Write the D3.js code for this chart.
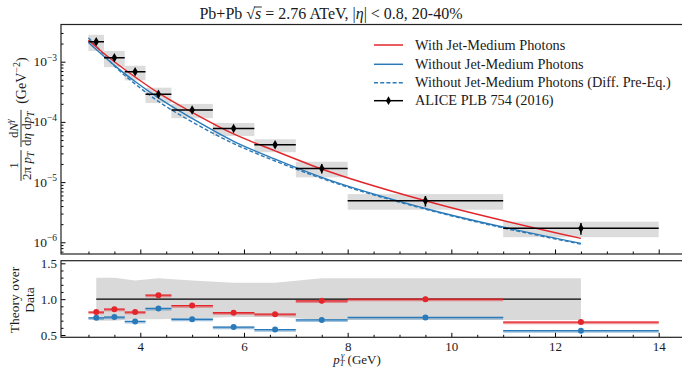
<!DOCTYPE html>
<html><head><meta charset="utf-8">
<script src="https://cdn.jsdelivr.net/npm/d3@7/dist/d3.min.js"></script>
<style>
body{margin:0;background:#fff}
svg{display:block}
text{font-family:"Liberation Serif","Times New Roman",serif;fill:#1a1a1a}
</style></head><body>
<svg id="c" width="682" height="369"></svg>
<script>
// ---------------- data ----------------
const binCenters=[3.15,3.5,3.9,4.35,5.0,5.8,6.6,7.5,9.5,12.5];
const binLow=[3.0,3.3,3.7,4.1,4.6,5.4,6.2,7.0,8.0,11.0];
const binHigh=[3.3,3.7,4.1,4.6,5.4,6.2,7.0,8.0,11.0,14.0];
const aliceYield=[2.15e-3,1.16e-3,6.8e-4,2.87e-4,1.58e-4,7.8e-5,4.18e-5,1.69e-5,4.9e-6,1.71e-6];
const aliceStatRel=[0.04,0.04,0.04,0.05,0.05,0.07,0.10,0.18,0.20,0.22];
const sysUpper=[1.30,1.30,1.26,1.29,1.26,1.23,1.23,1.29,1.29,1.29];
const sysLower=[0.70,0.70,0.72,0.72,0.73,0.75,0.75,0.71,0.71,0.71];
const curveX=[3.0,3.15,3.5,3.9,4.35,5.0,5.8,6.6,7.5,9.5,12.5];
const withJetMedium=[2.29e-3,1.76e-3,1.0e-3,5.58e-4,3.03e-4,1.44e-4,6.3e-5,3.3e-5,1.65e-5,4.9e-6,1.16e-6];
const withoutJetMedium=[2.09e-3,1.59e-3,8.7e-4,4.69e-4,2.5e-4,1.14e-4,4.76e-5,2.41e-5,1.2e-5,3.65e-6,9.6e-7];
const withoutDiffPreEq=[2.5e-3,1.82e-3,8.5e-4,4.27e-4,2.19e-4,1.0e-4,4.37e-5,2.24e-5,1.15e-5,3.55e-6,9.3e-7];
const ratioWith=[0.82,0.86,0.82,1.056,0.91,0.81,0.79,0.976,1.0,0.68];
const ratioWithout=[0.74,0.75,0.69,0.87,0.72,0.61,0.576,0.71,0.745,0.56];
const ratioWithErr=[0.03,0.03,0.03,0.03,0.03,0.03,0.03,0.035,0.035,0.03];
const ratioWithoutErr=[0.025,0.025,0.025,0.025,0.025,0.025,0.025,0.03,0.03,0.025];
const xTickValues=[4,6,8,10,12,14];
const yTopExponents=[-6,-5,-4,-3];
const yBottomTicks=[0.5,1.0,1.5];
const legendLabels=["With Jet-Medium Photons","Without Jet-Medium Photons","Without Jet-Medium Photons (Diff. Pre-Eq.)","ALICE PLB 754 (2016)"];

// ---------------- layout ----------------
const RED="#e3262b", BLUE="#2a7ab9";
const L=61, R=702;
const topT=24.5, topB=254, botT=260.7, botB=337.3;
const svg=d3.select("#c");
const x=d3.scaleLinear().domain([4,14]).range([140.3,658.7]);
const yT=d3.scaleLog().domain([1e-6,1e-3]).range([242.3,61.7]);
const yB=d3.scaleLinear().domain([0.5,1.5]).range([335,263.3]);

const defs=svg.append("defs");
defs.append("clipPath").attr("id","clipT").append("rect").attr("x",L).attr("y",topT).attr("width",R-L).attr("height",topB-topT);
defs.append("clipPath").attr("id","clipB").append("rect").attr("x",L).attr("y",botT).attr("width",R-L).attr("height",botB-botT);

// ---------------- top panel ----------------
const gT=svg.append("g").attr("clip-path","url(#clipT)");
gT.selectAll("rect.sys").data(aliceYield).enter().append("rect")
  .attr("x",(d,i)=>x(binLow[i])).attr("width",(d,i)=>x(binHigh[i])-x(binLow[i]))
  .attr("y",(d,i)=>yT(d*sysUpper[i])).attr("height",(d,i)=>yT(d*sysLower[i])-yT(d*sysUpper[i]))
  .attr("fill","#dcdcdc");

const line=(arr)=>d3.line().x((d,i)=>x(curveX[i])).y(d=>yT(d)).curve(d3.curveMonotoneX)(arr);
gT.append("path").attr("d",line(withoutDiffPreEq)).attr("fill","none").attr("stroke",BLUE).attr("stroke-width",1.4).attr("stroke-dasharray","4,2.2");
gT.append("path").attr("d",line(withoutJetMedium)).attr("fill","none").attr("stroke",BLUE).attr("stroke-width",1.4);
gT.append("path").attr("d",line(withJetMedium)).attr("fill","none").attr("stroke",RED).attr("stroke-width",1.4);

aliceYield.forEach((v,i)=>{
  gT.append("line").attr("x1",x(binLow[i])).attr("x2",x(binHigh[i])).attr("y1",yT(v)).attr("y2",yT(v)).attr("stroke","#000").attr("stroke-width",1.5);
  gT.append("line").attr("x1",x(binCenters[i])).attr("x2",x(binCenters[i])).attr("y1",yT(v*(1+aliceStatRel[i]))).attr("y2",yT(v*(1-aliceStatRel[i]))).attr("stroke","#000").attr("stroke-width",1.5);
});
gT.selectAll("path.mk").data(aliceYield).enter().append("path")
  .attr("d",d3.symbol().type(d3.symbolDiamond).size(26))
  .attr("transform",(d,i)=>`translate(${x(binCenters[i])},${yT(d)})`).attr("fill","#000");

// ---------------- bottom panel ----------------
const gB=svg.append("g").attr("clip-path","url(#clipB)");
gB.append("path").datum(binCenters)
  .attr("d",d3.area().x(d=>x(d)).y0((d,i)=>yB(sysLower[i])).y1((d,i)=>yB(sysUpper[i])))
  .attr("fill","#d9d9d9");
gB.append("line").attr("x1",x(binCenters[0])).attr("x2",x(binCenters[binCenters.length-1])).attr("y1",yB(1)).attr("y2",yB(1)).attr("stroke","#000").attr("stroke-width",1.3);

function ratioSeries(vals,errs,col){
  vals.forEach((v,i)=>{
    gB.append("line").attr("x1",x(binLow[i])).attr("x2",x(binHigh[i])).attr("y1",yB(v)+0.8).attr("y2",yB(v)+0.8).attr("stroke",col).attr("stroke-width",2.6).attr("opacity",0.45);
    gB.append("line").attr("x1",x(binLow[i])).attr("x2",x(binHigh[i])).attr("y1",yB(v)).attr("y2",yB(v)).attr("stroke",col).attr("stroke-width",1.3);
    gB.append("line").attr("x1",x(binCenters[i])).attr("x2",x(binCenters[i])).attr("y1",yB(v+errs[i])).attr("y2",yB(v-errs[i])).attr("stroke",col).attr("stroke-width",1.3);
    gB.append("circle").attr("cx",x(binCenters[i])).attr("cy",yB(v)).attr("r",3).attr("fill",col);
  });
}
ratioSeries(ratioWithout,ratioWithoutErr,BLUE);
ratioSeries(ratioWith,ratioWithErr,RED);

// ---------------- axes / ticks ----------------
const xMinor=d3.range(3,15.01,0.5).filter(v=>!xTickValues.includes(v));
function xTicks(yPos,labels){
  const a=svg.append("g").attr("transform",`translate(0,${yPos})`)
    .call(d3.axisBottom(x).tickValues(xTickValues).tickSizeInner(-4.5).tickSizeOuter(0).tickPadding(4)
      .tickFormat(labels?d3.format("d"):""));
  a.select(".domain").remove();
  a.selectAll("line").attr("stroke","#000");
  a.selectAll("text").style("font-size","13px").attr("font-family",'"Liberation Serif",serif').attr("fill","#333");
  const m=svg.append("g").attr("transform",`translate(0,${yPos})`)
    .call(d3.axisBottom(x).tickValues(xMinor).tickSizeInner(-2.5).tickSizeOuter(0).tickFormat(""));
  m.select(".domain").remove();
  m.selectAll("line").attr("stroke","#000");
}
xTicks(topB,false);
xTicks(botB,true);

const yMajor=yTopExponents.map(e=>Math.pow(10,e));
const yMinorT=[];
for(let e=-7;e<=-3;e++){for(let m=2;m<=9;m++){const v=m*Math.pow(10,e);const p=yT(v);if(p>topT+1&&p<topB-1)yMinorT.push(v);}}
const ay=svg.append("g").attr("transform",`translate(${L},0)`)
  .call(d3.axisLeft(yT).tickValues(yMajor).tickSizeInner(-4.5).tickSizeOuter(0).tickFormat(""));
ay.select(".domain").remove(); ay.selectAll("line").attr("stroke","#000");
const ay2=svg.append("g").attr("transform",`translate(${L},0)`)
  .call(d3.axisLeft(yT).tickValues(yMinorT).tickSizeInner(-2.5).tickSizeOuter(0).tickFormat(""));
ay2.select(".domain").remove(); ay2.selectAll("line").attr("stroke","#000");
yTopExponents.forEach(e=>{
  const t=svg.append("text").attr("x",57).attr("y",yT(Math.pow(10,e))+4.5).attr("text-anchor","end").style("font-size","13.5px").attr("fill","#333");
  t.append("tspan").text("10");
  t.append("tspan").attr("dy",-5.5).style("font-size","9.5px").text("\u2212"+Math.abs(e));
});

const yMinorB=d3.range(0.5,1.501,0.1).map(v=>+v.toFixed(2)).filter(v=>!yBottomTicks.includes(v));
const ab=svg.append("g").attr("transform",`translate(${L},0)`)
  .call(d3.axisLeft(yB).tickValues(yBottomTicks).tickSizeInner(-4.5).tickSizeOuter(0).tickPadding(4).tickFormat(d3.format(".1f")));
ab.select(".domain").remove(); ab.selectAll("line").attr("stroke","#000");
ab.selectAll("text").style("font-size","13px").attr("font-family",'"Liberation Serif",serif').attr("fill","#333");
const ab2=svg.append("g").attr("transform",`translate(${L},0)`)
  .call(d3.axisLeft(yB).tickValues(yMinorB).tickSizeInner(-2.5).tickSizeOuter(0).tickFormat(""));
ab2.select(".domain").remove(); ab2.selectAll("line").attr("stroke","#000");

[[topT,topB],[botT,botB]].forEach(([a,b])=>{
  svg.append("rect").attr("x",L).attr("y",a).attr("width",R-L).attr("height",b-a).attr("fill","none").attr("stroke","#222").attr("stroke-width",1.2);
});

// ---------------- legend ----------------
const legY=[45,64.3,82.7,100.7];
const lg=svg.append("g");
[[RED,null],[BLUE,null],[BLUE,"4,2.2"]].forEach(([c,da],i)=>{
  const l=lg.append("line").attr("x1",374).attr("x2",403).attr("y1",legY[i]).attr("y2",legY[i]).attr("stroke",c).attr("stroke-width",1.5);
  if(da) l.attr("stroke-dasharray",da);
});
lg.append("line").attr("x1",374).attr("x2",403).attr("y1",legY[3]).attr("y2",legY[3]).attr("stroke","#000").attr("stroke-width",1.5);
lg.append("path").attr("d",d3.symbol().type(d3.symbolDiamond).size(22)).attr("transform",`translate(388.5,${legY[3]})`).attr("fill","#000");
legendLabels.forEach((s,i)=>{
  lg.append("text").attr("x",415).attr("y",legY[i]+4.5).style("font-size","14.3px").text(s);
});

// ---------------- title ----------------
const title=svg.append("text").attr("x",331).attr("y",18.5).attr("text-anchor","middle").style("font-size","16px");
title.append("tspan").text("Pb+Pb ");
title.append("tspan").text("\u221A");
title.append("tspan").style("font-style","italic").text("s");
title.append("tspan").text(" = 2.76 ATeV, |");
title.append("tspan").style("font-style","italic").text("\u03B7");
title.append("tspan").text("| < 0.8, 20-40%");
{
  const node=title.node();
  const e=node.getExtentOfChar(7);
  const r=node.getExtentOfChar(6);
  svg.append("line").attr("x1",r.x+r.width-1).attr("x2",e.x+e.width+0.5).attr("y1",e.y+2.5).attr("y2",e.y+2.5).attr("stroke","#1a1a1a").attr("stroke-width",0.9);
}

// ---------------- x label ----------------
const xl=svg.append("text").attr("x",357).attr("y",364).attr("text-anchor","middle").style("font-size","13px");
xl.append("tspan").style("font-style","italic").text("p");
xl.append("tspan").attr("dy",1.8).style("font-size","8.5px").style("font-style","italic").text("T");
xl.append("tspan").attr("dx",-3.5).attr("dy",-7.8).style("font-size","8.5px").style("font-style","italic").text("\u03B3");
xl.append("tspan").attr("dy",6).text(" (GeV)");

// ---------------- bottom y label ----------------
[["Theory over",19],["Data",34]].forEach(([s,px])=>{
  svg.append("text").attr("transform",`translate(${px},300) rotate(-90)`).attr("text-anchor","middle").style("font-size","13.5px").text(s);
});

// ---------------- top y label (rotated math) ----------------
{
  const g=svg.append("g");
  const fs=13, fsS=9.5;
  let u=0;
  function txt(parts,base){
    const t=g.append("text").attr("x",0).attr("y",base).style("font-size",fs+"px");
    parts.forEach(p=>{
      const ts=t.append("tspan").text(p.t);
      if(p.i) ts.style("font-style","italic");
      if(p.sub){ts.style("font-size",fsS+"px").attr("dy",2.5);}
      if(p.sup){ts.style("font-size",fsS+"px").attr("dy",-5);}
    });
    return t;
  }
  function frac(num,den){
    const tn=txt(num,-3), td=txt(den,10);
    const wn=tn.node().getBBox().width, wd=td.node().getBBox().width;
    const w=Math.max(wn,wd)+2;
    tn.attr("x",u+(w-wn)/2); td.attr("x",u+(w-wd)/2);
    g.append("line").attr("x1",u).attr("x2",u+w).attr("y1",0).attr("y2",0).attr("stroke","#1a1a1a").attr("stroke-width",0.9);
    u+=w;
  }
  frac([{t:"1"}],[{t:"2\u03C0 "},{t:"p",i:1},{t:"T",i:1,sub:1}]);
  u+=3;
  frac([{t:"d"},{t:"N",i:1},{t:"\u03B3",i:1,sup:1}],[{t:"d"},{t:"\u03B7",i:1},{t:" d"},{t:"p",i:1},{t:"T",i:1,sub:1}]);
  u+=6;
  const tg=g.append("text").attr("x",u).attr("y",4.5).style("font-size","14px");
  tg.append("tspan").text("(GeV");
  tg.append("tspan").attr("dy",-6).style("font-size","10px").text("\u22122");
  tg.append("tspan").attr("dy",6).text(")");
  u+=tg.node().getBBox().width;
  g.attr("transform",`translate(21,${119+u/2}) rotate(-90)`);
}
</script>
</body></html>
